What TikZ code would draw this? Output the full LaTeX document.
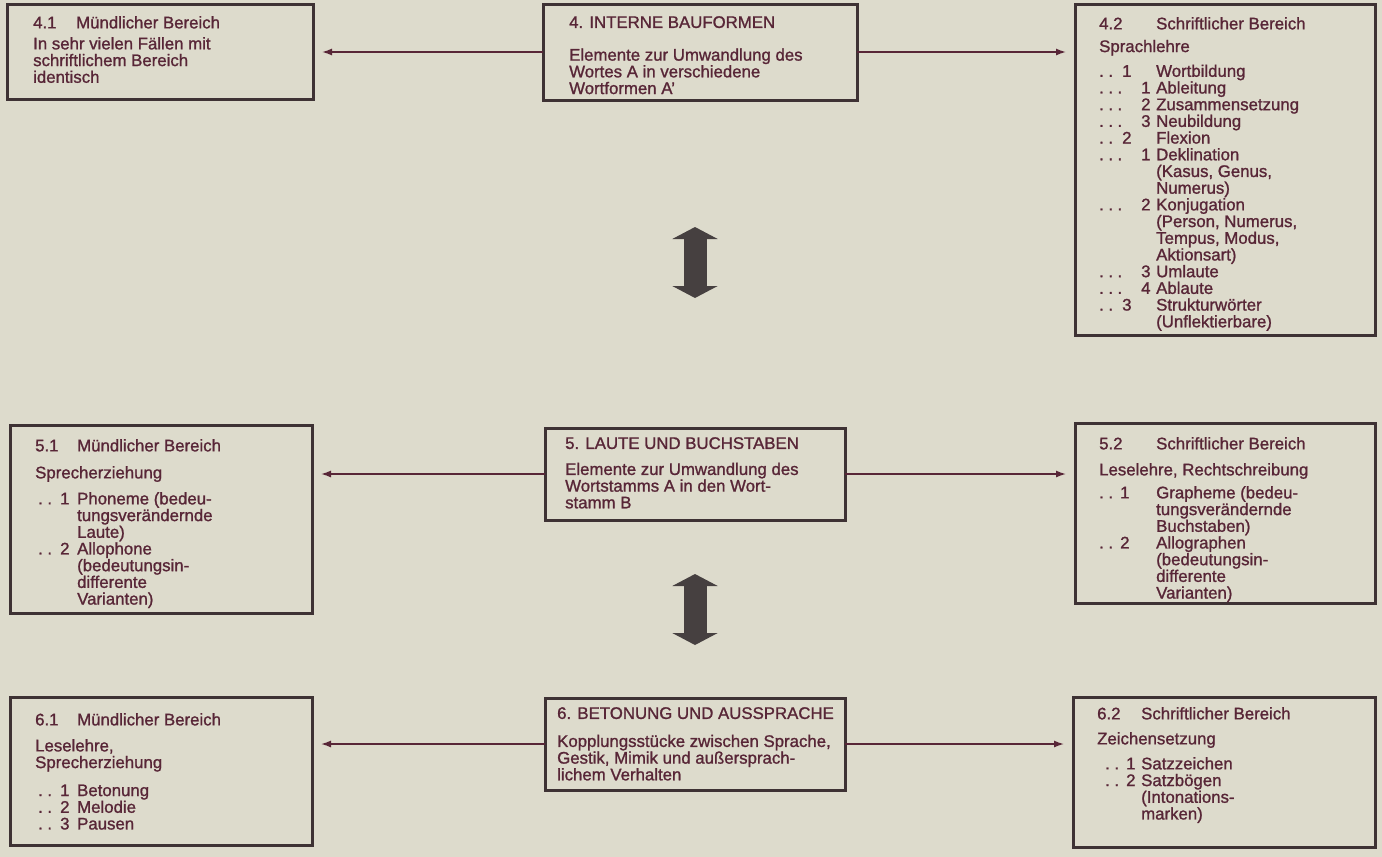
\documentclass[tikz,border=0pt]{standalone}
\usepackage{fontspec}
\setmainfont{Liberation Sans}[FakeBold=1.2]
\usetikzlibrary{arrows.meta, calc}

\definecolor{paper}{RGB}{221,219,204}
\definecolor{ink}{RGB}{88,38,55}
\definecolor{frame}{RGB}{62,50,52}
\definecolor{block}{RGB}{70,64,64}

\newcommand\dd{.\hspace{4.5pt}.}
\newcommand\ddd{.\hspace{4.5pt}.\hspace{4.5pt}.}
\newcommand\hd[3]{\makebox[#1][l]{#2}#3}
\newcommand\itm[5]{\makebox[#1][l]{#2}\makebox[#3][l]{#4}#5}

\begin{document}
\begin{tikzpicture}[
x=1pt, y=-1pt,
box/.style={draw=frame, line width=3pt, outer sep=0pt, inner sep=0pt, anchor=north west},
txt/.style={anchor=north west, inner sep=0pt, align=left, text=ink, font=\fontsize{16.8}{16.7}\selectfont},
conn/.style={draw=ink, line width=1.4pt, -{Latex[length=10pt, width=7pt]}, shorten >=9pt},
dblarrow/.style={draw=block, line width=23pt, {Triangle[length=12pt, width=45pt]}-{Triangle[length=12pt, width=45pt]}}
]
\fill[paper] (0,0) rectangle (1382,857);
\useasboundingbox (0,0) rectangle (1382,857);

\node[box, minimum width=306pt, minimum height=95pt] (oral4) at (7,4) {};
\node[box, minimum width=314pt, minimum height=96pt] (inner) at (543,4) {};
\node[box, minimum width=300pt, minimum height=331pt] (written4) at (1075,4) {};

\node[box, minimum width=302pt, minimum height=188pt] (oral5) at (10,425) {};
\node[box, minimum width=300pt, minimum height=92pt] (sounds) at (545,428) {};
\node[box, minimum width=300pt, minimum height=180pt] (written5) at (1075,423) {};

\node[box, minimum width=302pt, minimum height=148pt] (oral6) at (10,697) {};
\node[box, minimum width=300pt, minimum height=92pt] (stress) at (545,698) {};
\node[box, minimum width=302pt, minimum height=150pt] (written6) at (1073,697) {};

\node[txt] (oral4txt) at ($(oral4.north west)+(26,12)$) {\hd{43pt}{4.1}{Mündlicher Bereich}\\[4.3pt]
In sehr vielen Fällen mit\\ schriftlichem Bereich\\ identisch};
\node[txt] (innertxt) at ($(inner.north west)+(26,12)$) {4. INTERNE BAUFORMEN\\[16pt]
Elemente zur Umwandlung des\\ Wortes A in verschiedene\\ Wortformen A'};
\node[txt] (written4txt) at ($(written4.north west)+(24,13)$) {\hd{57pt}{4.2}{Schriftlicher Bereich}\\[6pt]
Sprachlehre\\[8pt]
\itm{23pt}{\dd}{34pt}{1}{Wortbildung}\\
\itm{42pt}{\ddd}{15pt}{1}{Ableitung}\\
\itm{42pt}{\ddd}{15pt}{2}{Zusammensetzung}\\
\itm{42pt}{\ddd}{15pt}{3}{Neubildung}\\
\itm{23pt}{\dd}{34pt}{2}{Flexion}\\
\itm{42pt}{\ddd}{15pt}{1}{Deklination}\\
\hspace*{57pt}(Kasus, Genus,\\
\hspace*{57pt}Numerus)\\
\itm{42pt}{\ddd}{15pt}{2}{Konjugation}\\
\hspace*{57pt}(Person, Numerus,\\
\hspace*{57pt}Tempus, Modus,\\
\hspace*{57pt}Aktionsart)\\
\itm{42pt}{\ddd}{15pt}{3}{Umlaute}\\
\itm{42pt}{\ddd}{15pt}{4}{Ablaute}\\
\itm{23pt}{\dd}{34pt}{3}{Strukturwörter}\\
\hspace*{57pt}(Unflektierbare)};

\node[txt] (oral5txt) at ($(oral5.north west)+(25,14)$) {\hd{42pt}{5.1}{Mündlicher Bereich}\\[10.3pt]
Sprecherziehung\\[9.3pt]
\itm{25pt}{\hspace{3pt}\dd}{17pt}{1}{Phoneme (bedeu-}\\
\hspace*{42pt}tungsverändernde\\
\hspace*{42pt}Laute)\\
\itm{25pt}{\hspace{3pt}\dd}{17pt}{2}{Allophone}\\
\hspace*{42pt}(bedeutungsin-\\
\hspace*{42pt}differente\\
\hspace*{42pt}Varianten)};
\node[txt] (soundstxt) at ($(sounds.north west)+(20,9)$) {5. LAUTE UND BUCHSTABEN\\[9.3pt]
Elemente zur Umwandlung des\\ Wortstamms A in den Wort-\\ stamm B};
\node[txt] (written5txt) at ($(written5.north west)+(24,14)$) {\hd{57pt}{5.2}{Schriftlicher Bereich}\\[9.3pt]
Leselehre, Rechtschreibung\\[6.3pt]
\itm{21pt}{\dd}{36pt}{1}{Grapheme (bedeu-}\\
\hspace*{57pt}tungsverändernde\\
\hspace*{57pt}Buchstaben)\\
\itm{21pt}{\dd}{36pt}{2}{Allographen}\\
\hspace*{57pt}(bedeutungsin-\\
\hspace*{57pt}differente\\
\hspace*{57pt}Varianten)};

\node[txt] (oral6txt) at ($(oral6.north west)+(25,16)$) {\hd{42pt}{6.1}{Mündlicher Bereich}\\[9.3pt]
Leselehre,\\ Sprecherziehung\\[11.3pt]
\itm{25pt}{\hspace{3pt}\dd}{17pt}{1}{Betonung}\\
\itm{25pt}{\hspace{3pt}\dd}{17pt}{2}{Melodie}\\
\itm{25pt}{\hspace{3pt}\dd}{17pt}{3}{Pausen}};
\node[txt] (stresstxt) at ($(stress.north west)+(12,9)$) {6. BETONUNG UND AUSSPRACHE\\[11.3pt]
Kopplungsstücke zwischen Sprache,\\ Gestik, Mimik und außersprach-\\ lichem Verhalten};
\node[txt] (written6txt) at ($(written6.north west)+(24,10)$) {\hd{44pt}{6.2}{Schriftlicher Bereich}\\[8.3pt]
Zeichensetzung\\[8.3pt]
\itm{29pt}{\hspace{8pt}\dd}{15pt}{1}{Satzzeichen}\\
\itm{29pt}{\hspace{8pt}\dd}{15pt}{2}{Satzbögen}\\
\hspace*{44pt}(Intonations-\\
\hspace*{44pt}marken)};

\draw[conn] (inner.west) -- (inner.west -| oral4.east);
\draw[conn] (inner.east) -- (inner.east -| written4.west);
\draw[conn] (sounds.west) -- (sounds.west -| oral5.east);
\draw[conn] (sounds.east) -- (sounds.east -| written5.west);
\draw[conn] (stress.west) -- (stress.west -| oral6.east);
\draw[conn] (stress.east) -- (stress.east -| written6.west);

\coordinate (up1) at (695,227);
\coordinate (dn1) at (695,298);
\coordinate (up2) at (695,574);
\coordinate (dn2) at (695,645);
\draw[dblarrow] (up1) -- (dn1);
\draw[dblarrow] (up2) -- (dn2);
\end{tikzpicture}
\end{document}
